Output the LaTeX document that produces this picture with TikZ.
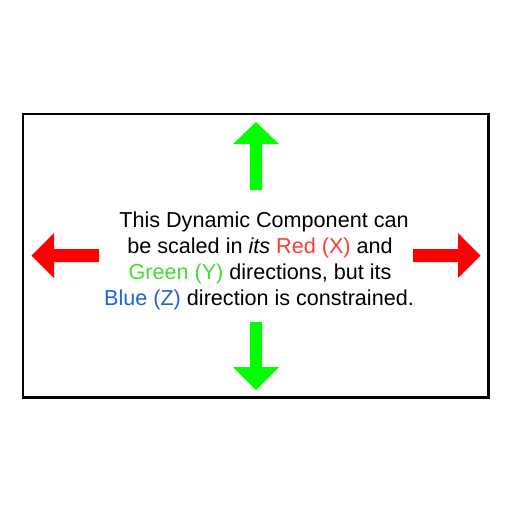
\documentclass[tikz,border=0pt]{standalone}
\usepackage{fontspec}
\setmainfont{Liberation Sans}
\definecolor{txtred}{HTML}{FF3B2F}
\definecolor{txtgreen}{HTML}{44DD33}
\definecolor{txtblue}{HTML}{1F63DD}
\definecolor{arrred}{HTML}{FF0000}
\definecolor{arrgreen}{HTML}{00FF00}
\begin{document}
\begin{tikzpicture}[x=1pt,y=-1pt,
  txt/.style={anchor=base,inner sep=0pt,font=\fontsize{21.6pt}{26pt}\selectfont},
  frame/.style={draw=black,line width=2.5pt},
  redarrow/.style={fill=arrred},
  greenarrow/.style={fill=arrgreen}]
\useasboundingbox[fill=white] (0,0) rectangle (512,512);
\draw[frame] (23,114) rectangle (488.5,397.5);
% up arrow
\fill[greenarrow] (250,190) -- (250,144) -- (233,144) -- (256,122) -- (279,144) -- (262,144) -- (262,190) -- cycle;
% down arrow
\fill[greenarrow] (250,322) -- (250,367) -- (233,367) -- (256,390) -- (279,367) -- (262,367) -- (262,322) -- cycle;
% left arrow
\fill[redarrow] (99,249) -- (54,249) -- (54,233) -- (31.5,255.5) -- (54,278) -- (54,262) -- (99,262) -- cycle;
% right arrow
\fill[redarrow] (413,249) -- (458,249) -- (458,233) -- (480.5,255.5) -- (458,278) -- (458,262) -- (413,262) -- cycle;
\node[txt] (l1) at (264,227) {This Dynamic Component can};
\node[txt] (l2) at (260,253) {be scaled in \textit{its} \textcolor{txtred}{Red (X)} and};
\node[txt] (l3) at (260,279) {\textcolor{txtgreen}{Green (Y)} directions, but its};
\node[txt] (l4) at (259,305) {\textcolor{txtblue}{Blue (Z)} direction is constrained.};
\end{tikzpicture}
\end{document}
